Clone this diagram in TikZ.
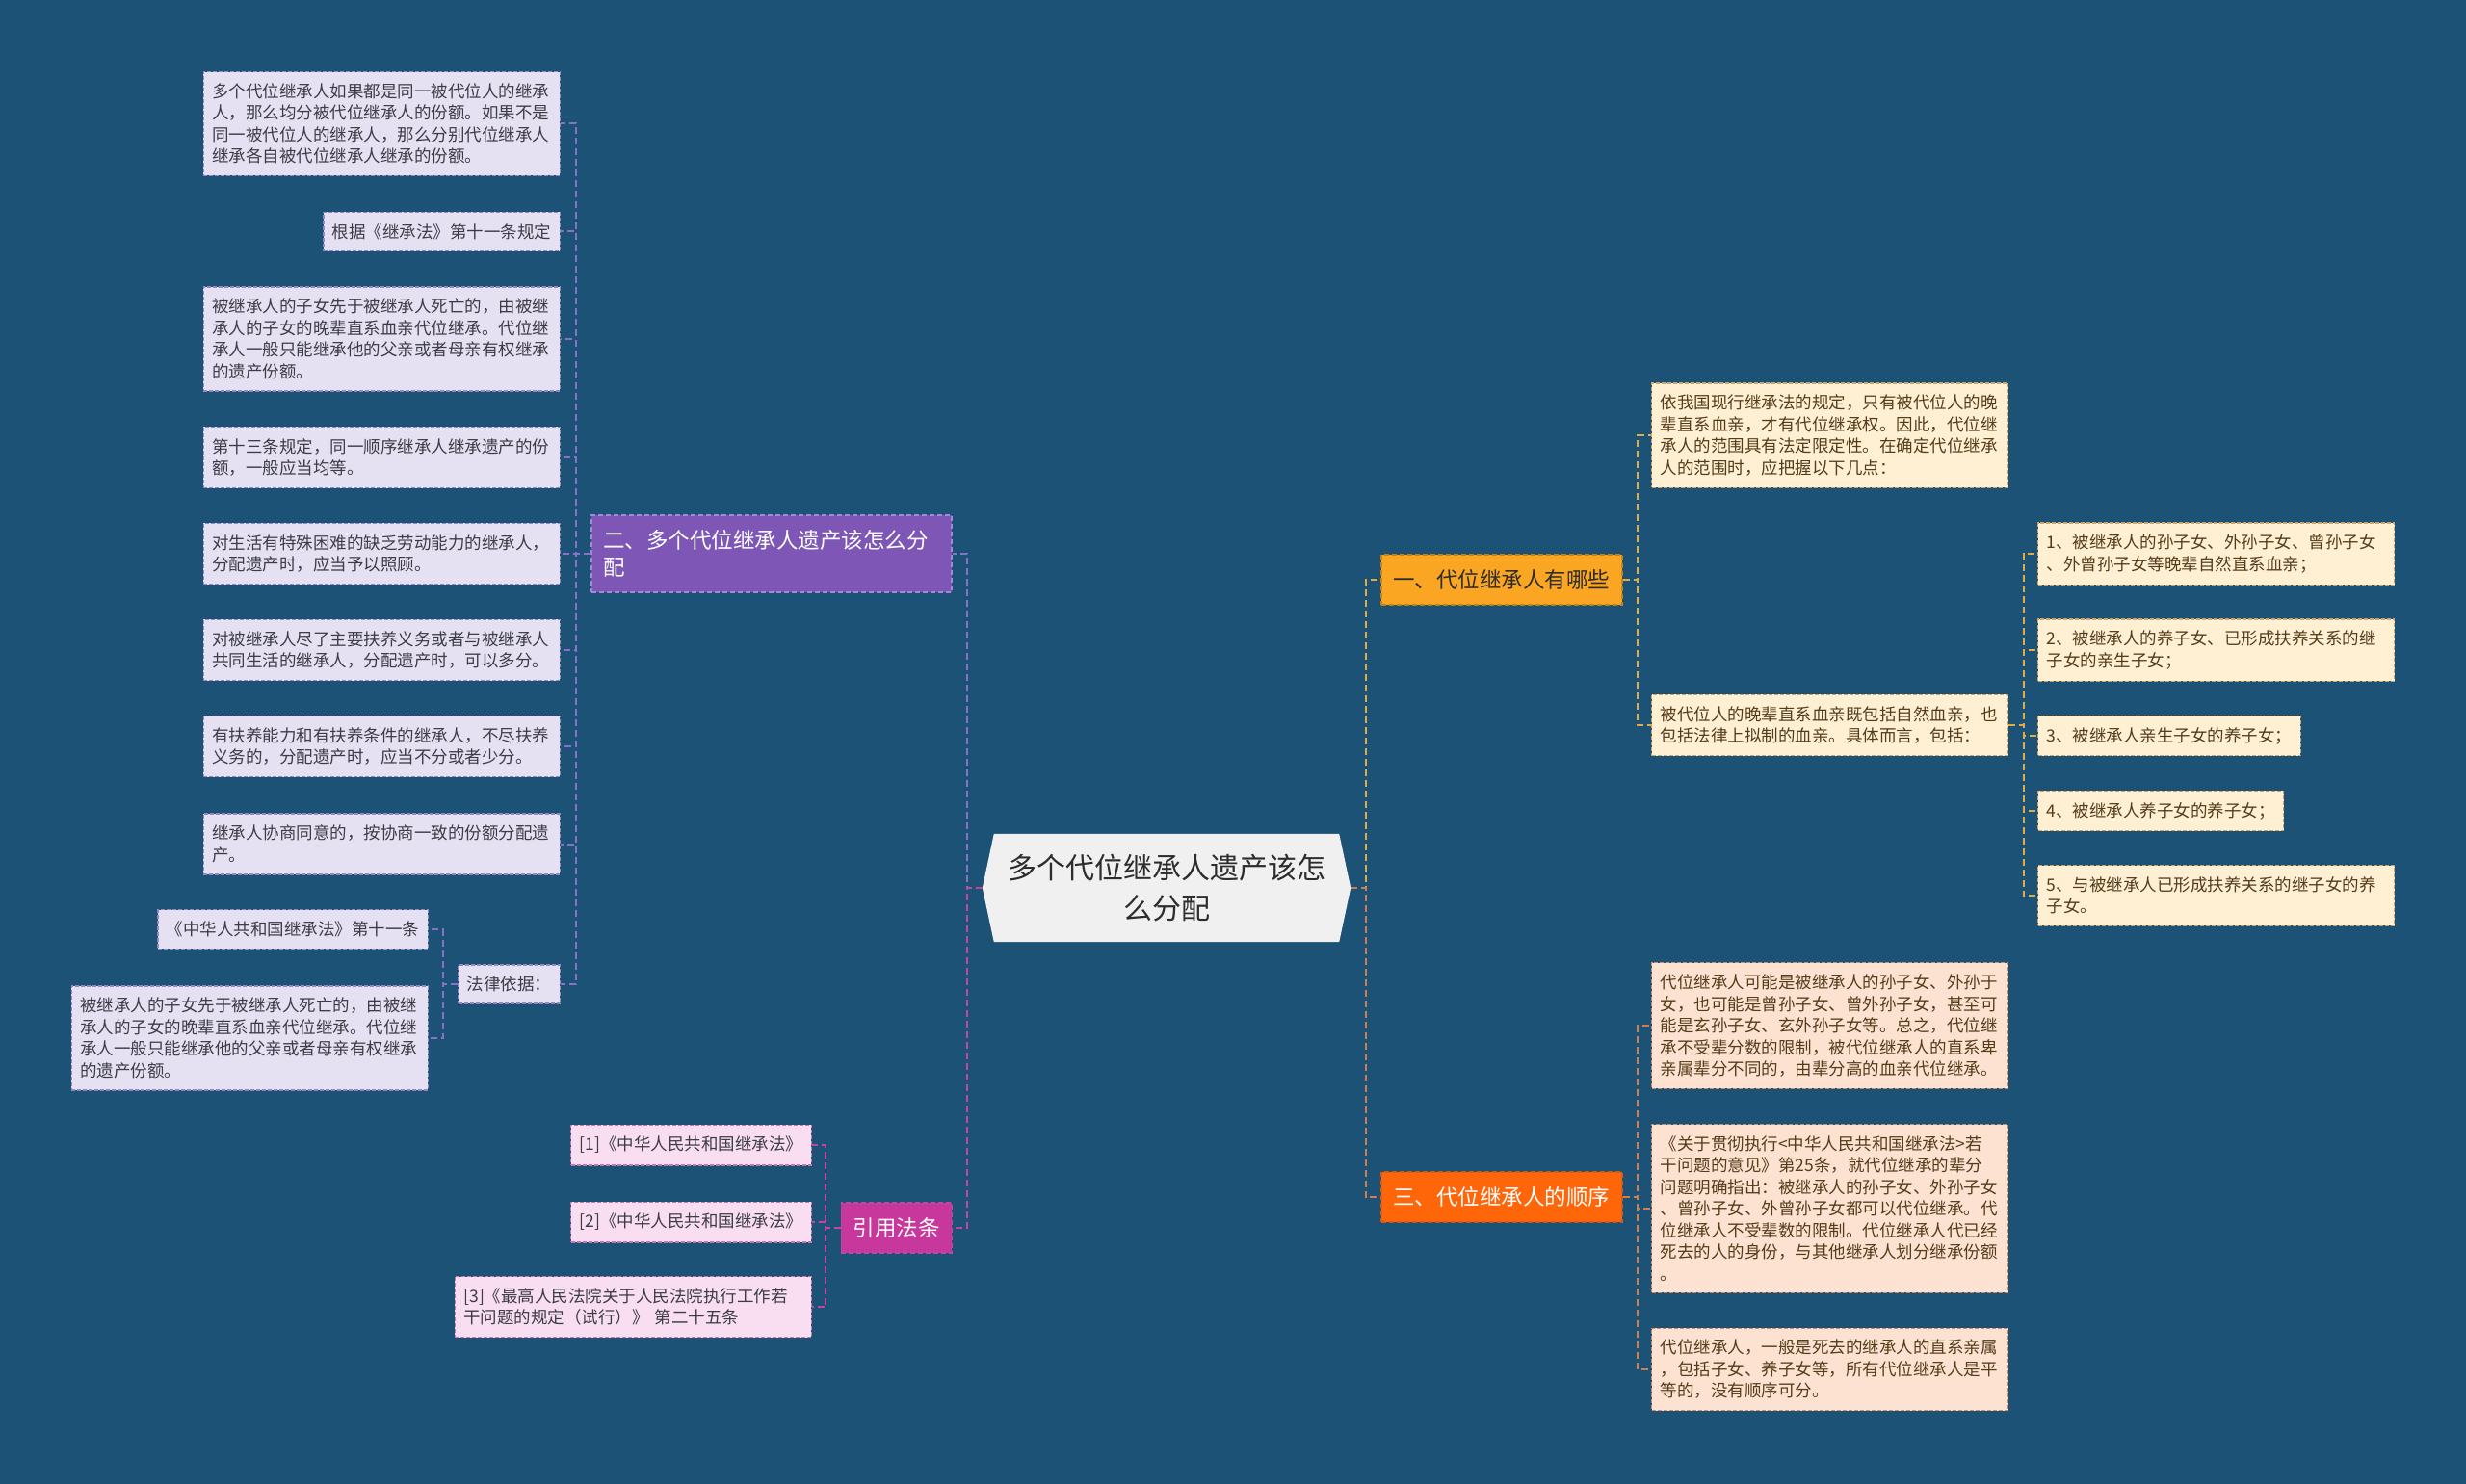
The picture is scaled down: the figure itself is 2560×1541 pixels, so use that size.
\documentclass[tikz,border=0pt]{standalone}
\usepackage{fontspec}
\setmainfont{Noto Sans CJK SC}
\usetikzlibrary{positioning,backgrounds}
\definecolor{DeepSea}{RGB}{27,82,118}
\definecolor{HubGrey}{RGB}{240,240,240}
\definecolor{HubInk}{RGB}{45,45,45}
\definecolor{LavFill}{RGB}{230,225,242}
\definecolor{LavEdge}{RGB}{150,135,195}
\definecolor{LavInk}{RGB}{60,60,70}
\definecolor{SplitPurple}{RGB}{126,87,182}
\definecolor{SplitEdge}{RGB}{165,135,215}
\definecolor{PurpleLink}{RGB}{140,112,200}
\definecolor{CitePink}{RGB}{200,55,155}
\definecolor{PinkFill}{RGB}{248,222,240}
\definecolor{PinkEdge}{RGB}{200,120,175}
\definecolor{MagentaLink}{RGB}{195,70,160}
\definecolor{KindsGold}{RGB}{250,166,35}
\definecolor{GoldEdge}{RGB}{200,130,20}
\definecolor{CreamFill}{RGB}{255,240,212}
\definecolor{CreamEdge}{RGB}{205,165,105}
\definecolor{BrownInk}{RGB}{85,60,25}
\definecolor{GoldLink}{RGB}{225,172,70}
\definecolor{OrderOrange}{RGB}{255,102,10}
\definecolor{OrangeEdge}{RGB}{215,90,20}
\definecolor{PeachFill}{RGB}{253,226,210}
\definecolor{PeachEdge}{RGB}{205,140,110}
\definecolor{OrangeLink}{RGB}{210,125,80}
\tikzset{
  link/.style={line width=2pt,dash pattern=on 7pt off 4pt},
  card/.style={line width=1.2pt,dash pattern=on 4pt off 2pt,
    inner xsep=9pt,inner ysep=12pt,align=left,
    font=\fontsize{17.5}{22.5}\selectfont},
  wide/.style={text width=352pt},
  lavcard/.style={card,draw=LavEdge,fill=LavFill,text=LavInk},
  pinkcard/.style={card,draw=PinkEdge,fill=PinkFill,text=LavInk},
  creamcard/.style={card,draw=CreamEdge,fill=CreamFill,text=BrownInk},
  peachcard/.style={card,draw=PeachEdge,fill=PeachFill,text=BrownInk},
  branch/.style={line width=1.5pt,dash pattern=on 5pt off 3pt,
    inner xsep=12.5pt,inner ysep=15.5pt,align=left,
    font=\fontsize{22.5}{28}\selectfont},
  hub/.style={minimum width=382pt,minimum height=112pt,align=center,
    text=HubInk,font=\fontsize{30}{42}\selectfont}
}
\begin{document}
\begin{tikzpicture}[x=1pt,y=-1pt]
  \useasboundingbox (0,0) rectangle (2560,1541);
  \begin{scope}[on background layer]
    \fill[DeepSea] (0,0) rectangle (2560,1541);
  \end{scope}

  % centre
  \node[hub] (hub) at (1211,922) {多个代位继承人遗产该怎\\么分配};
  \begin{scope}[on background layer]
    \fill[HubGrey] ([xshift=12pt]hub.north west) -- ([xshift=-12pt]hub.north east)
      -- (hub.east) -- ([xshift=-12pt]hub.south east)
      -- ([xshift=12pt]hub.south west) -- (hub.west) -- cycle;
  \end{scope}

  % left branches
  \node[branch,draw=SplitEdge,fill=SplitPurple,text=white,text width=349pt,
    anchor=west] (split) at (613,575) {二、多个代位继承人遗产该怎么分\\配};
  \node[branch,draw=MagentaLink,fill=CitePink,text=white,
    anchor=east] (cite) at (989,1275) {引用法条};

  \node[lavcard,wide,anchor=east] (lv1) at (582,128.5)
    {多个代位继承人如果都是同一被代位人的继承\\人，那么均分被代位继承人的份额。如果不是\\同一被代位人的继承人，那么分别代位继承人\\继承各自被代位继承人继承的份额。};
  \node[lavcard,anchor=east] (lv2) at (582,240.5) {根据《继承法》第十一条规定};
  \node[lavcard,wide,anchor=east] (lv3) at (582,352)
    {被继承人的子女先于被继承人死亡的，由被继\\承人的子女的晚辈直系血亲代位继承。代位继\\承人一般只能继承他的父亲或者母亲有权继承\\的遗产份额。};
  \node[lavcard,wide,anchor=east] (lv4) at (582,475)
    {第十三条规定，同一顺序继承人继承遗产的份\\额，一般应当均等。};
  \node[lavcard,wide,anchor=east] (lv5) at (582,575)
    {对生活有特殊困难的缺乏劳动能力的继承人，\\分配遗产时，应当予以照顾。};
  \node[lavcard,wide,anchor=east] (lv6) at (582,675)
    {对被继承人尽了主要扶养义务或者与被继承人\\共同生活的继承人，分配遗产时，可以多分。};
  \node[lavcard,wide,anchor=east] (lv7) at (582,775)
    {有扶养能力和有扶养条件的继承人，不尽扶养\\义务的，分配遗产时，应当不分或者少分。};
  \node[lavcard,wide,anchor=east] (lv8) at (582,876.5)
    {继承人协商同意的，按协商一致的份额分配遗\\产。};
  \node[lavcard,anchor=east] (legal) at (582,1022) {法律依据：};
  \node[lavcard,anchor=east] (lg1) at (445,965) {《中华人共和国继承法》第十一条};
  \node[lavcard,wide,anchor=east] (lg2) at (445,1078)
    {被继承人的子女先于被继承人死亡的，由被继\\承人的子女的晚辈直系血亲代位继承。代位继\\承人一般只能继承他的父亲或者母亲有权继承\\的遗产份额。};

  \node[pinkcard,anchor=east] (r1) at (843,1189) {[1]《中华人民共和国继承法》};
  \node[pinkcard,anchor=east] (r2) at (843,1269) {[2]《中华人民共和国继承法》};
  \node[pinkcard,wide,anchor=east] (r3) at (843,1357)
    {[3]《最高人民法院关于人民法院执行工作若\\干问题的规定（试行）》 第二十五条};

  % right branches
  \node[branch,draw=GoldEdge,fill=KindsGold,text=HubInk,
    anchor=west] (kinds) at (1433,602) {一、代位继承人有哪些};
  \node[branch,draw=OrangeEdge,fill=OrderOrange,text=white,
    anchor=west] (order) at (1433,1243) {三、代位继承人的顺序};

  \node[creamcard,wide,anchor=west] (k1) at (1714,452)
    {依我国现行继承法的规定，只有被代位人的晚\\辈直系血亲，才有代位继承权。因此，代位继\\承人的范围具有法定限定性。在确定代位继承\\人的范围时，应把握以下几点：};
  \node[creamcard,wide,anchor=west] (k2) at (1714,753)
    {被代位人的晚辈直系血亲既包括自然血亲，也\\包括法律上拟制的血亲。具体而言，包括：};
  \node[creamcard,wide,anchor=west] (c1) at (2115,575)
    {1、被继承人的孙子女、外孙子女、曾孙子女\\、外曾孙子女等晚辈自然直系血亲；};
  \node[creamcard,wide,anchor=west] (c2) at (2115,675)
    {2、被继承人的养子女、已形成扶养关系的继\\子女的亲生子女；};
  \node[creamcard,anchor=west] (c3) at (2115,764) {3、被继承人亲生子女的养子女；};
  \node[creamcard,anchor=west] (c4) at (2115,842) {4、被继承人养子女的养子女；};
  \node[creamcard,wide,anchor=west] (c5) at (2115,930)
    {5、与被继承人已形成扶养关系的继子女的养\\子女。};

  \node[peachcard,wide,anchor=west] (d1) at (1714,1065)
    {代位继承人可能是被继承人的孙子女、外孙于\\女，也可能是曾孙子女、曾外孙子女，甚至可\\能是玄孙子女、玄外孙子女等。总之，代位继\\承不受辈分数的限制，被代位继承人的直系卑\\亲属辈分不同的，由辈分高的血亲代位继承。};
  \node[peachcard,wide,anchor=west] (d2) at (1714,1255)
    {《关于贯彻执行<中华人民共和国继承法>若\\干问题的意见》第25条，就代位继承的辈分\\问题明确指出：被继承人的孙子女、外孙子女\\、曾孙子女、外曾孙子女都可以代位继承。代\\位继承人不受辈数的限制。代位继承人代已经\\死去的人的身份，与其他继承人划分继承份额\\。};
  \node[peachcard,wide,anchor=west] (d3) at (1714,1422)
    {代位继承人，一般是死去的继承人的直系亲属\\，包括子女、养子女等，所有代位继承人是平\\等的，没有顺序可分。};

  % links
  \draw[link,draw=PurpleLink] (hub.west) -- ++(-16,0) |- (split.east);
  \draw[link,draw=MagentaLink] (hub.west) -- ++(-16,0) |- (cite.east);
  \draw[link,draw=GoldLink] (hub.east) -- ++(15.5,0) |- (kinds.west);
  \draw[link,draw=OrangeLink] (hub.east) -- ++(15.5,0) |- (order.west);

  \draw[link,draw=PurpleLink] (split.west) -- ++(-15.5,0) |- (lv1.east);
  \draw[link,draw=PurpleLink] (split.west) -- ++(-15.5,0) |- (lv2.east);
  \draw[link,draw=PurpleLink] (split.west) -- ++(-15.5,0) |- (lv3.east);
  \draw[link,draw=PurpleLink] (split.west) -- ++(-15.5,0) |- (lv4.east);
  \draw[link,draw=PurpleLink] (split.west) -- ++(-15.5,0) |- (lv5.east);
  \draw[link,draw=PurpleLink] (split.west) -- ++(-15.5,0) |- (lv6.east);
  \draw[link,draw=PurpleLink] (split.west) -- ++(-15.5,0) |- (lv7.east);
  \draw[link,draw=PurpleLink] (split.west) -- ++(-15.5,0) |- (lv8.east);
  \draw[link,draw=PurpleLink] (split.west) -- ++(-15.5,0) |- (legal.east);
  \draw[link,draw=PurpleLink] (legal.west) -- ++(-15.5,0) |- (lg1.east);
  \draw[link,draw=PurpleLink] (legal.west) -- ++(-15.5,0) |- (lg2.east);

  \draw[link,draw=MagentaLink] (cite.west) -- ++(-15.5,0) |- (r1.east);
  \draw[link,draw=MagentaLink] (cite.west) -- ++(-15.5,0) |- (r2.east);
  \draw[link,draw=MagentaLink] (cite.west) -- ++(-15.5,0) |- (r3.east);

  \draw[link,draw=GoldLink] (kinds.east) -- ++(15.5,0) |- (k1.west);
  \draw[link,draw=GoldLink] (kinds.east) -- ++(15.5,0) |- (k2.west);
  \draw[link,draw=GoldLink] (k2.east) -- ++(15.5,0) |- (c1.west);
  \draw[link,draw=GoldLink] (k2.east) -- ++(15.5,0) |- (c2.west);
  \draw[link,draw=GoldLink] (k2.east) -- ++(15.5,0) |- (c3.west);
  \draw[link,draw=GoldLink] (k2.east) -- ++(15.5,0) |- (c4.west);
  \draw[link,draw=GoldLink] (k2.east) -- ++(15.5,0) |- (c5.west);

  \draw[link,draw=OrangeLink] (order.east) -- ++(15.5,0) |- (d1.west);
  \draw[link,draw=OrangeLink] (order.east) -- ++(15.5,0) |- (d2.west);
  \draw[link,draw=OrangeLink] (order.east) -- ++(15.5,0) |- (d3.west);
\end{tikzpicture}
\end{document}
